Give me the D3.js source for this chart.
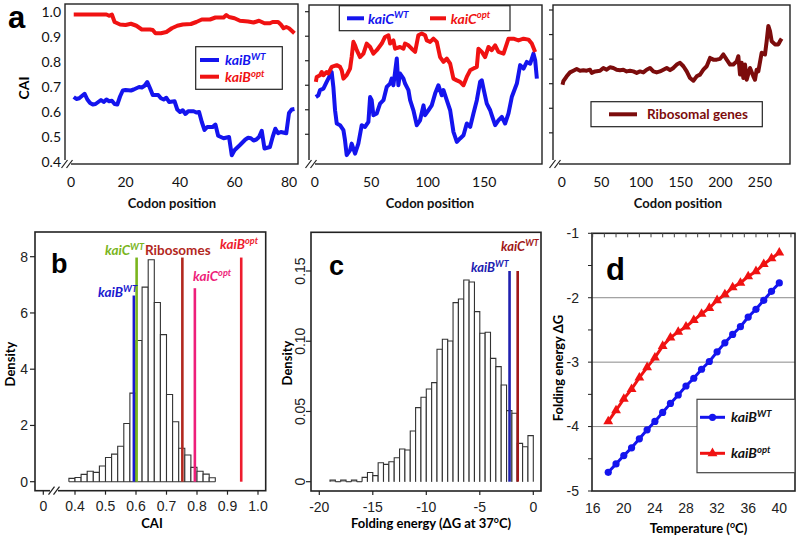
<!DOCTYPE html>
<html><head><meta charset="utf-8">
<script src="https://cdn.jsdelivr.net/npm/d3@7"></script>
<style>body{margin:0;background:#fff}svg{display:block}</style>
</head><body><svg id="fig" width="800" height="541"></svg>
<script>
// ---------- Panel a : sliding-window CAI along the gene  [codon, CAI] ----------
const kaiBWT = [[1,.66],[2,.652],[3,.655],[5,.673],[6,.65],[7,.636],[8,.63],[9,.632],[11,.648],[12,.64],[13,.65],[14,.643],[15,.645],[16,.632],[17,.63],[18,.662],[19,.686],[20,.688],[22,.686],[23,.69],[25,.70],[26,.698],[27,.705],[28,.72],[29,.695],[30,.668],[32,.668],[33,.655],[34,.65],[35,.657],[36,.64],[38,.643],[39,.61],[40,.60],[41,.607],[42,.592],[43,.603],[45,.603],[46,.598],[47,.60],[48,.56],[49,.528],[50,.54],[52,.54],[53,.55],[54,.505],[56,.495],[58,.50],[59,.427],[60,.447],[62,.468],[64,.49],[65,.497],[66,.495],[67,.486],[68,.49],[69,.50],[70,.525],[71,.454],[73,.46],[74,.50],[75,.533],[76,.515],[77,.52],[79,.515],[80,.596],[81,.61],[82,.612]];
const kaiBOpt = [[1,.99],[13,.99],[14,.985],[15,.99],[16,.96],[18,.95],[20,.948],[22,.953],[24,.945],[26,.93],[29,.93],[30,.928],[31,.915],[33,.915],[35,.92],[37,.935],[39,.945],[41,.95],[44,.952],[46,.96],[48,.97],[51,.97],[53,.978],[56,.978],[57,.988],[58,.98],[60,.975],[62,.965],[65,.962],[67,.958],[69,.965],[71,.955],[73,.955],[74,.96],[76,.96],[77,.95],[78,.935],[79,.94],[80,.935],[81,.925],[82,.915]];
const kaiCWT = [[1,.652],[3.2,.659],[4.7,.68],[7.7,.686],[10.6,.714],[13.6,.741],[15,.754],[16.5,.693],[18,.598],[19.5,.544],[22.4,.537],[25.4,.517],[26.8,.476],[28.3,.415],[31.3,.435],[32.7,.462],[35.7,.421],[38.6,.462],[41.6,.537],[44.5,.53],[47.5,.551],[49,.652],[50.4,.639],[51.9,.578],[54.9,.585],[57.8,.625],[60.8,.639],[63.7,.693],[66.7,.707],[68.1,.727],[69.6,.70],[71.1,.754],[72.6,.809],[74,.70],[75.5,.748],[78.5,.727],[79.9,.707],[82.9,.68],[84.4,.639],[87.3,.598],[90.3,.537],[93.2,.557],[96.2,.618],[97.6,.578],[100.6,.598],[103.5,.618],[106.5,.666],[109.4,.70],[112.4,.659],[113.9,.68],[116.8,.639],[119.8,.598],[122.7,.51],[125.7,.469],[128.6,.483],[131.6,.496],[134.5,.544],[137.5,.53],[140.4,.585],[143.4,.639],[146.3,.714],[147.8,.72],[149.3,.686],[152.2,.625],[155.2,.598],[156.6,.578],[159.6,.537],[162.5,.557],[165.5,.571],[168.4,.544],[171.4,.585],[174.3,.652],[178.8,.707],[181.7,.782],[184.7,.768],[187.6,.795],[190.6,.788],[193.5,.829],[195,.802],[196.5,.727]];
const kaiCOpt = [[1,.714],[1.8,.734],[4.7,.741],[6.2,.754],[7.7,.741],[10.6,.754],[12.1,.748],[15,.775],[19.5,.782],[22.4,.775],[23.9,.761],[25.4,.727],[28.3,.741],[31.3,.768],[32.7,.815],[34.2,.877],[35.7,.863],[37.2,.843],[40.1,.815],[43.1,.829],[46,.87],[49,.856],[51.9,.829],[54.9,.843],[59.3,.87],[62.2,.897],[65.2,.904],[66.7,.87],[69.6,.883],[71.1,.849],[75.5,.856],[78.5,.849],[79.9,.87],[82.9,.863],[85.8,.849],[88.8,.836],[91.7,.904],[94.7,.911],[97.6,.904],[99.1,.883],[102.1,.877],[105,.89],[108,.877],[110.9,.815],[113.9,.795],[116.8,.809],[119.8,.788],[122.7,.727],[125.7,.72],[128.6,.714],[131.6,.70],[134.5,.734],[137.5,.761],[140.4,.768],[143.4,.775],[144.8,.849],[147.8,.836],[150.7,.815],[153.7,.856],[156.6,.843],[159.6,.863],[162.5,.836],[167,.829],[171.4,.89],[175.8,.89],[180.2,.883],[184.7,.89],[189.1,.886],[192,.87],[195,.836]];
const riboCAI = [[1,.696],[2.1,.71],[6.3,.73],[10.5,.746],[14.7,.753],[18.9,.76],[23.1,.753],[27.3,.755],[31.5,.753],[35.7,.757],[37.8,.744],[42,.75],[48.3,.753],[52.5,.764],[56.7,.757],[60.9,.767],[65.1,.764],[69.3,.757],[73.5,.755],[77.7,.757],[81.9,.75],[86.1,.753],[90.3,.75],[94.5,.744],[98.7,.75],[102.9,.746],[107.1,.757],[111.3,.764],[115.5,.75],[119.7,.746],[123.9,.75],[128.2,.757],[132.4,.764],[136.6,.755],[140.8,.764],[145,.778],[149.2,.785],[153.4,.771],[157.6,.75],[161.8,.723],[166,.712],[170.2,.73],[174.4,.737],[178.6,.757],[182.8,.771],[187,.805],[191.2,.798],[195.4,.798],[199.6,.801],[203.8,.819],[208,.798],[212.2,.778],[216.4,.778],[220.6,.791],[222.7,.812],[224.8,.737],[226.9,.785],[229,.723],[231.1,.778],[233.2,.716],[237.4,.764],[241.6,.73],[243.7,.716],[245.8,.757],[247.9,.75],[252.1,.826],[256.3,.819],[258.4,.873],[260.5,.935],[262.6,.914],[264.7,.873],[268.9,.86],[273.1,.86],[275.2,.873],[277.3,.883]];
const caiTicks = [0.4,0.5,0.6,0.7,0.8,0.9,1.0];
const a1Ticks = [0,20,40,60,80];
const a2Ticks = [0,50,100,150];
const a3Ticks = [0,50,100,150,200,250];

// ---------- Panel b : CAI histogram ----------
const caiBinLeft = [0.38,0.40,0.42,0.44,0.46,0.48,0.50,0.52,0.54,0.56,0.58,0.60,0.62,0.64,0.66,0.68,0.70,0.72,0.74,0.76,0.78,0.80,0.82,0.84];
const caiDensity = [0.12,0.15,0.26,0.37,0.33,0.56,0.86,0.98,1.26,2.07,3.15,5.02,6.92,7.89,6.37,5.23,3.10,2.13,1.19,0.95,0.51,0.37,0.27,0.14];
const caiBinWidth = 0.02;
const bMarkers = [
  {name:"kaiB", sup:"WT", cai:0.593, top:6.62, color:"#1a1ad0"},
  {name:"kaiC", sup:"WT", cai:0.602, top:7.97, color:"#7ab51d"},
  {name:"Ribosomes", sup:"", cai:0.752, top:7.97, color:"#b2281e"},
  {name:"kaiC", sup:"opt", cai:0.793, top:6.88, color:"#ee1e7a"},
  {name:"kaiB", sup:"opt", cai:0.945, top:7.97, color:"#ee1c2e"}];
const bXTicks = [0.4,0.5,0.6,0.7,0.8,0.9,1.0];
const bXLabels = ["0.4","0.5","0.6","0.7","0.8","0.9","1.0"];
const bYTicks = [0,2,4,6,8];

// ---------- Panel c : folding energy histogram ----------
const dgBinLeft = [-19,-18.5,-18,-17.5,-17,-16.5,-16,-15.5,-15,-14.5,-14,-13.5,-13,-12.5,-12,-11.5,-11,-10.5,-10,-9.5,-9,-8.5,-8,-7.5,-7,-6.5,-6,-5.5,-5,-4.5,-4,-3.5,-3,-2.5,-2,-1.5,-1,-0.5];
const dgDensity = [0.0012,0,0.0012,0,0.0012,0,0.0031,0.0066,0.0043,0.0135,0.0123,0.0142,0.0171,0.0233,0.0226,0.0361,0.0527,0.0601,0.066,0.0705,0.0943,0.1014,0.1002,0.1275,0.1301,0.1436,0.1422,0.1211,0.1057,0.1064,0.0878,0.0819,0.0688,0.0506,0.0487,0.0273,0.0249,0.0328];
const dgBinWidth = 0.5;
const cMarkers = [
  {name:"kaiB", sup:"WT", dg:-2.22, top:0.15, color:"#2020b0"},
  {name:"kaiC", sup:"WT", dg:-1.46, top:0.15, color:"#a01818"}];
const cXTicks = [-20,-15,-10,-5,0];
const cYTicks = [0,0.05,0.10,0.15];
const cYLabels = ["0","0.05","0.10","0.15"];

// ---------- Panel d : folding energy vs temperature ----------
const temps = [18,19,20,21,22,23,24,25,26,27,28,29,30,31,32,33,34,35,36,37,38,39,40];
const dGkaiBWT = [-4.71,-4.58,-4.45,-4.33,-4.19,-4.05,-3.92,-3.78,-3.64,-3.51,-3.37,-3.25,-3.11,-2.99,-2.84,-2.70,-2.57,-2.45,-2.30,-2.18,-2.04,-1.90,-1.77];
const dGkaiBOpt = [-3.92,-3.75,-3.57,-3.42,-3.24,-3.08,-2.93,-2.75,-2.62,-2.53,-2.45,-2.35,-2.25,-2.16,-2.04,-1.95,-1.84,-1.77,-1.67,-1.59,-1.48,-1.39,-1.30];
const dXTicks = [16,20,24,28,32,36,40];
const dYTicks = [-5,-4,-3,-2,-1];
const dGrid = [-4,-3,-2];

// =====================================================================
const svg = d3.select("#fig");
const LB = "Lato, 'Open Sans', sans-serif";
const AR = "'Liberation Sans', Arial, sans-serif";
const BLUE = "#1414ee", RED = "#f01212", MAROON = "#7c0c0c";

function rich(g, x, y, parts, size, attrs) {
  const t = g.append("text").attr("x", x).attr("y", y).attr("font-size", size);
  Object.entries(attrs || {}).forEach(([k, v]) => t.attr(k, v));
  let raised = false;
  parts.forEach(([s, sup]) => {
    if (!s) return;
    const ts = t.append("tspan").text(s);
    if (sup) { ts.attr("font-size", size * 0.68); if (!raised) { ts.attr("dy", -size * 0.38); raised = true; } }
    else if (raised) { ts.attr("dy", size * 0.38); raised = false; }
  });
  return t;
}
function breakMark(g, x, y) {
  g.append("rect").attr("x", x - 4).attr("y", y - 4).attr("width", 8).attr("height", 8).attr("fill", "#fff");
  [-2.5, 2.5].forEach(o => g.append("line").attr("x1", x + o - 3).attr("y1", y + 4).attr("x2", x + o + 3).attr("y2", y - 4)
    .attr("stroke", "#222").attr("stroke-width", 1.2));
}

// ---------------- Panel a ----------------
const aPanels = [
  {box:[65,4,298,164], x:d3.scaleLinear([0,80],[71,289]), y:d3.scaleLinear([0.4,1.0],[162,12]), ticks:a1Ticks,
   series:[[kaiBWT,BLUE],[kaiBOpt,RED]], ylab:true, title:172},
  {box:[309,5,542,164], x:d3.scaleLinear([0,150],[314.7,484.3]), y:d3.scaleLinear([0.4,1.0],[158.8,11.7]), ticks:a2Ticks,
   series:[[kaiCWT,BLUE],[kaiCOpt,RED]], ylab:false, title:430},
  {box:[553,5,790,164], x:d3.scaleLinear([0,250],[561.7,760]), y:d3.scaleLinear([0.4,1.0],[157.4,10]), ticks:a3Ticks,
   series:[[riboCAI,MAROON]], ylab:false, title:678}
];
aPanels.forEach((p, i) => {
  const g = svg.append("g");
  const [x0,y0,x1,y1] = p.box;
  p.series.forEach(([data, col]) => {
    g.append("path").datum(data).attr("fill","none").attr("stroke",col).attr("stroke-width",4)
      .attr("stroke-linejoin","round").attr("d", d3.line().x(d => p.x(d[0])).y(d => p.y(d[1])));
  });
  g.append("rect").attr("x",x0).attr("y",y0).attr("width",x1-x0).attr("height",y1-y0)
    .attr("fill","none").attr("stroke","#222").attr("stroke-width",1.4);
  if (p.ylab) {
    caiTicks.forEach(v => g.append("text").attr("x",61).attr("y",p.y(v)).attr("dy","0.35em")
      .attr("text-anchor","end").attr("font-family",LB).attr("font-size",14).attr("fill","#111").text(v.toFixed(1)));
  } else {
    caiTicks.filter(v => v > 0.45).forEach(v => g.append("line").attr("x1",x0-4).attr("x2",x0).attr("y1",p.y(v)).attr("y2",p.y(v))
      .attr("stroke","#222").attr("stroke-width",1.2));
  }
  p.ticks.forEach(v => g.append("text").attr("x",p.x(v)).attr("y",187).attr("text-anchor","middle")
    .attr("font-family",LB).attr("font-size",14).attr("fill","#111").text(v));
  g.append("text").attr("x",p.title).attr("y",208).attr("text-anchor","middle").attr("font-family",LB)
    .attr("font-weight","bold").attr("font-size",13).attr("fill","#111").text("Codon position");
  breakMark(g, x0 + 2, y1);
});
svg.append("text").attr("transform","translate(29,88) rotate(-90)").attr("text-anchor","middle")
  .attr("font-family",LB).attr("font-weight","bold").attr("font-size",14).text("CAI");
svg.append("text").attr("x",8).attr("y",28).attr("font-family",AR).attr("font-weight","bold").attr("font-size",31).text("a");
// legends a
{
  const g = svg.append("g").attr("font-family",LB).attr("font-weight","bold").attr("font-style","italic");
  g.append("rect").attr("x",195.7).attr("y",46.7).attr("width",86.6).attr("height",42.6).attr("fill","#fff").attr("stroke","#222").attr("stroke-width",1.2);
  g.append("line").attr("x1",200).attr("x2",219).attr("y1",60).attr("y2",60).attr("stroke",BLUE).attr("stroke-width",4);
  rich(g,225,65,[["kaiB",0],["WT",1]],14,{fill:BLUE});
  g.append("line").attr("x1",200).attr("x2",219).attr("y1",76.7).attr("y2",76.7).attr("stroke",RED).attr("stroke-width",4);
  rich(g,225,82,[["kaiB",0],["opt",1]],14,{fill:RED});

  g.append("rect").attr("x",339.3).attr("y",5.7).attr("width",170.7).attr("height",25).attr("fill","#fff").attr("stroke","#222").attr("stroke-width",1.2);
  g.append("line").attr("x1",347).attr("x2",364).attr("y1",18.3).attr("y2",18.3).attr("stroke",BLUE).attr("stroke-width",4);
  rich(g,368,23.5,[["kaiC",0],["WT",1]],14,{fill:BLUE});
  g.append("line").attr("x1",430).attr("x2",446).attr("y1",18.3).attr("y2",18.3).attr("stroke",RED).attr("stroke-width",4);
  rich(g,450.7,23.5,[["kaiC",0],["opt",1]],14,{fill:RED});

  g.append("rect").attr("x",591).attr("y",101.7).attr("width",171.3).attr("height",25).attr("fill","#fff").attr("stroke","#222").attr("stroke-width",1.2);
  g.append("line").attr("x1",609).attr("x2",637).attr("y1",114.3).attr("y2",114.3).attr("stroke",MAROON).attr("stroke-width",4);
  g.append("text").attr("x",647).attr("y",119).attr("font-style","normal").attr("font-size",13.5).attr("fill",MAROON).text("Ribosomal genes");
}

// ---------------- Panel b ----------------
{
  const g = svg.append("g");
  const x = d3.scaleLinear([0.4,1.0],[75,258]);
  const y = d3.scaleLinear([0,8],[481.7,256.7]);
  const box = [35,232,265.7,490.7];
  g.selectAll("path.bar").data(caiBinLeft).join("path").attr("class","bar")
    .attr("d",(d,i)=>`M${x(d)},${y(0)}V${y(caiDensity[i])}H${x(d+caiBinWidth)}V${y(0)}`)
    .attr("fill","#fff").attr("stroke","#333").attr("stroke-width",1.1);
  g.append("line").attr("x1",x(caiBinLeft[0])).attr("x2",x(caiBinLeft[caiBinLeft.length-1]+caiBinWidth))
    .attr("y1",y(0)).attr("y2",y(0)).attr("stroke","#333").attr("stroke-width",1.1);
  bMarkers.forEach(m => g.append("line").attr("x1",x(m.cai)).attr("x2",x(m.cai)).attr("y1",y(0)).attr("y2",y(m.top))
    .attr("stroke",m.color).attr("stroke-width",2.6));
  g.append("rect").attr("x",box[0]).attr("y",box[1]).attr("width",box[2]-box[0]).attr("height",box[3]-box[1])
    .attr("fill","none").attr("stroke","#222").attr("stroke-width",1.6);
  bYTicks.forEach(v => {
    g.append("line").attr("x1",box[0]-5).attr("x2",box[0]).attr("y1",y(v)).attr("y2",y(v)).attr("stroke","#222").attr("stroke-width",1.2);
    g.append("text").attr("x",28).attr("y",y(v)).attr("dy","0.35em").attr("text-anchor","end")
      .attr("font-family",AR).attr("font-size",14).attr("fill","#222").text(v);
  });
  const xt = [43.3].concat(bXTicks.map(v => x(v)));
  const xl = ["0"].concat(bXLabels);
  xt.forEach((px,i) => {
    g.append("line").attr("x1",px).attr("x2",px).attr("y1",box[3]).attr("y2",box[3]+4).attr("stroke","#222").attr("stroke-width",1.2);
    g.append("text").attr("x",px).attr("y",511).attr("text-anchor","middle").attr("font-family",AR).attr("font-size",14).attr("fill","#222").text(xl[i]);
  });
  breakMark(g, 54, box[3]);
  g.append("text").attr("x",152).attr("y",528).attr("text-anchor","middle").attr("font-family",LB).attr("font-weight","bold").attr("font-size",13).text("CAI");
  g.append("text").attr("transform","translate(15,364) rotate(-90)").attr("text-anchor","middle").attr("font-family",LB).attr("font-weight","bold").attr("font-size",13).text("Density");
  g.append("text").attr("x",51).attr("y",273).attr("font-family",AR).attr("font-weight","bold").attr("font-size",27).text("b");
  const lab = g.append("g").attr("font-family",LB).attr("font-weight","bold").attr("font-size",13.5);
  const pos = [[98,297],[105,255],[145,255],[193,281],[220,249]];
  bMarkers.forEach((m,i) => rich(lab,pos[i][0],pos[i][1],[[m.name,0],[m.sup,1]],13.5,
    {fill:m.color, "font-style": m.sup ? "italic" : "normal"}));
}

// ---------------- Panel c ----------------
{
  const g = svg.append("g");
  const x = d3.scaleLinear([-20,0],[319.3,533.3]);
  const y = d3.scaleLinear([0,0.15],[481.7,271]);
  const box = [311,232.3,541,491];
  g.selectAll("path.bar").data(dgBinLeft).join("path").attr("class","bar")
    .attr("d",(d,i)=>`M${x(d)},${y(0)}V${y(dgDensity[i])}H${x(d+dgBinWidth)}V${y(0)}`)
    .attr("fill",(d,i)=> dgDensity[i] < 0.002 ? "#888" : "#fff").attr("stroke","#333").attr("stroke-width",1.1);
  cMarkers.forEach(m => g.append("line").attr("x1",x(m.dg)).attr("x2",x(m.dg)).attr("y1",y(0)).attr("y2",y(m.top))
    .attr("stroke",m.color).attr("stroke-width",2.6));
  g.append("rect").attr("x",box[0]).attr("y",box[1]).attr("width",box[2]-box[0]).attr("height",box[3]-box[1])
    .attr("fill","none").attr("stroke","#222").attr("stroke-width",1.6);
  cYTicks.forEach((v,i) => {
    g.append("line").attr("x1",box[0]-5).attr("x2",box[0]).attr("y1",y(v)).attr("y2",y(v)).attr("stroke","#222").attr("stroke-width",1.2);
    g.append("text").attr("transform",`translate(305,${y(v)}) rotate(-90)`).attr("text-anchor","middle")
      .attr("font-family",AR).attr("font-size",14).attr("fill","#222").text(cYLabels[i]);
  });
  cXTicks.forEach(v => {
    g.append("line").attr("x1",x(v)).attr("x2",x(v)).attr("y1",box[3]).attr("y2",box[3]+4).attr("stroke","#222").attr("stroke-width",1.2);
    g.append("text").attr("x",x(v)).attr("y",512).attr("text-anchor","middle").attr("font-family",AR).attr("font-size",14).attr("fill","#222").text(v);
  });
  rich(g,431,528,[["Folding energy (\u0394G at 37",0],["o",1],["C)",0]],13,{"text-anchor":"middle","font-family":LB,"font-weight":"bold"});
  g.append("text").attr("transform","translate(292,363) rotate(-90)").attr("text-anchor","middle").attr("font-family",LB).attr("font-weight","bold").attr("font-size",13).text("Density");
  g.append("text").attr("x",329).attr("y",275).attr("font-family",AR).attr("font-weight","bold").attr("font-size",27).text("c");
  const lab = g.append("g").attr("font-family",LB).attr("font-weight","bold").attr("font-style","italic");
  const pos = [[471,271.5],[501,251]];
  cMarkers.forEach((m,i) => rich(lab,pos[i][0],pos[i][1],[[m.name,0],[m.sup,1]],13,{fill:m.color}));
}

// ---------------- Panel d ----------------
{
  const g = svg.append("g");
  const x = d3.scaleLinear([16,40],[592.7,779.3]);
  const y = d3.scaleLinear([-5,-1],[491,233.3]);
  const box = [592,233.3,795,491];
  dGrid.forEach(v => g.append("line").attr("x1",box[0]).attr("x2",box[2]).attr("y1",y(v)).attr("y2",y(v)).attr("stroke","#8a8a8a").attr("stroke-width",1));
  g.append("rect").attr("x",box[0]).attr("y",box[1]).attr("width",box[2]-box[0]).attr("height",box[3]-box[1])
    .attr("fill","none").attr("stroke","#222").attr("stroke-width",1.6);
  d3.range(-5,-0.99,0.5).forEach(v => g.append("line").attr("x1",box[0]-4).attr("x2",box[0]).attr("y1",y(v)).attr("y2",y(v)).attr("stroke","#222"));
  d3.range(16,41.6,1.5).forEach(v => g.append("line").attr("x1",x(v)).attr("x2",x(v)).attr("y1",box[1]).attr("y2",box[1]+4).attr("stroke","#444"));
  dYTicks.forEach(v => g.append("text").attr("x",579).attr("y",y(v)).attr("dy","0.35em").attr("text-anchor","end")
    .attr("font-family",AR).attr("font-size",14).attr("fill","#222").text(v));
  dXTicks.forEach(v => g.append("text").attr("x",x(v)).attr("y",513).attr("text-anchor","middle")
    .attr("font-family",AR).attr("font-size",14).attr("fill","#222").text(v));
  const line = d3.line().x((d,i)=>x(temps[i])).y(d=>y(d));
  g.append("path").datum(dGkaiBWT).attr("d",line).attr("fill","none").attr("stroke",BLUE).attr("stroke-width",3);
  g.append("path").datum(dGkaiBOpt).attr("d",line).attr("fill","none").attr("stroke",RED).attr("stroke-width",3);
  g.selectAll("circle.m").data(dGkaiBWT).join("circle").attr("class","m").attr("cx",(d,i)=>x(temps[i])).attr("cy",d=>y(d)).attr("r",3.6).attr("fill",BLUE);
  const tri = d3.symbol(d3.symbolTriangle, 42);
  g.selectAll("path.t").data(dGkaiBOpt).join("path").attr("class","t").attr("d",tri).attr("transform",(d,i)=>`translate(${x(temps[i])},${y(d)})`).attr("fill",RED);
  // legend
  g.append("rect").attr("x",697).attr("y",399.3).attr("width",98).attr("height",73.4).attr("fill","#fff").attr("stroke","#444").attr("stroke-width",1.2);
  g.append("line").attr("x1",700).attr("x2",725).attr("y1",417.3).attr("y2",417.3).attr("stroke",BLUE).attr("stroke-width",3);
  g.append("circle").attr("cx",712.5).attr("cy",417.3).attr("r",3.6).attr("fill",BLUE);
  g.append("line").attr("x1",700).attr("x2",725).attr("y1",453.3).attr("y2",453.3).attr("stroke",RED).attr("stroke-width",3);
  g.append("path").attr("d",tri).attr("transform","translate(712.5,453.3)").attr("fill",RED);
  const lg = g.append("g").attr("font-family",LB).attr("font-weight","bold").attr("font-style","italic").attr("fill","#111");
  rich(lg,731,422,[["kaiB",0],["WT",1]],14,{});
  rich(lg,731,458,[["kaiB",0],["opt",1]],14,{});
  rich(g,698.5,533,[["Temperature (",0],["o",1],["C)",0]],13,{"text-anchor":"middle","font-family":LB,"font-weight":"bold"});
  g.append("text").attr("transform","translate(563,368) rotate(-90)").attr("text-anchor","middle").attr("font-family",LB).attr("font-weight","bold").attr("font-size",13).text("Folding energy \u0394G");
  g.append("text").attr("x",606).attr("y",280).attr("font-family",AR).attr("font-weight","bold").attr("font-size",31).text("d");
}
</script></body></html>
